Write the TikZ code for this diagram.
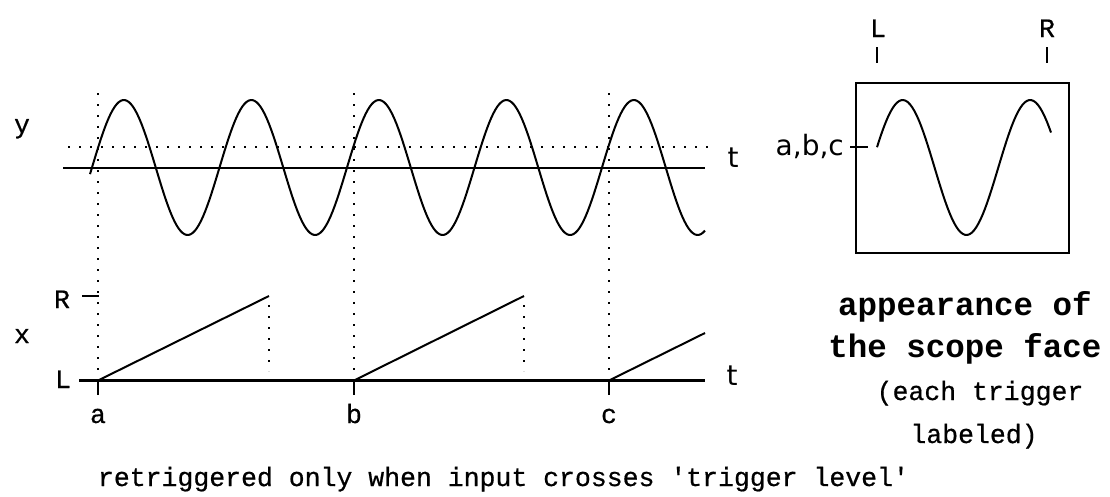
\documentclass[tikz,border=0pt]{standalone}
\usepackage{fontspec}
\setmainfont{Liberation Mono}
\newfontfamily\heavymono[FakeBold=0.6]{Liberation Mono}
\setsansfont{DejaVu Sans}
\usepackage{tikz}
\usetikzlibrary{positioning}

\begin{document}
\begin{tikzpicture}[
  x=1pt, y=-1pt,
  axis/.style={line width=2.4pt},
  trace/.style={line width=2pt, line join=round},
  dots/.style={line width=2pt, dash pattern=on 2pt off 9pt},
  tickmark/.style={line width=2pt},
  lbl/.style={inner sep=0pt, anchor=base, font=\heavymono\fontsize{26.5}{30}\selectfont},
  slbl/.style={inner sep=0pt, anchor=base, font=\sffamily\fontsize{28}{32}\selectfont},
  title/.style={inner sep=0pt, anchor=base, font=\rmfamily\bfseries\fontsize{32.5}{40}\selectfont},
]
  \useasboundingbox (0,0) rectangle (1110,496);

  % input signal and trigger level
  \coordinate (ystart) at (63,168);
  \coordinate (yend) at (705,168);
  \coordinate (lvlstart) at (68,146.7);
  \coordinate (lvlend) at (710,146.7);
  \draw[axis] (ystart) -- (yend);
  \draw[dots] (lvlstart) -- (lvlend);
  \draw[trace] plot[domain=90:705, samples=300] (\x,{167.5-67.5*sin((\x-92)/127.5*360)});
  \node[lbl] (ylab) at (22,133) {y};
  \node[slbl] (ty) at (733,167) {t};

  % sweep
  \coordinate (xstart) at (79,380.5);
  \coordinate (xend) at (705,380.5);
  \draw[axis] (xstart) -- (xend);
  \node[lbl] (xlab) at (22,343) {x};
  \node[lbl] (rlab) at (62,308) {R};
  \node[lbl] (llab) at (63,388) {L};
  \node[slbl] (tx) at (732,385) {t};
  \coordinate (rtickl) at (82,296);
  \coordinate (rtickr) at (99,296);
  \draw[tickmark] (rtickl) -- (rtickr);

  \foreach \n/\xx/\xe/\ye in {a/98/269/296, b/354/524/296, c/609/705/333} {
    \coordinate (top\n) at (\xx,93);
    \coordinate (foot\n) at (\xx,371);
    \coordinate (axis\n) at (\xx,380.5);
    \coordinate (tick\n) at (\xx,395);
    \coordinate (ramp\n) at (\xe,\ye);
    \draw[dots] (top\n) -- (foot\n);
    \draw[tickmark] (axis\n) -- (tick\n);
    \draw[trace] (axis\n) -- (ramp\n);
    \node[lbl] (\n) at (\xx,423) {\n};
  }
  \coordinate (dropa) at (269,371);
  \coordinate (dropb) at (524,371);
  \draw[dots] ([yshift=-9pt]rampa) -- (dropa);
  \draw[dots] ([yshift=-9pt]rampb) -- (dropb);

  \node[lbl] (note) at (503.5,486) {retriggered only when input crosses \textquotesingle trigger level\textquotesingle};

  % scope face
  \node[draw, line width=2.4pt, minimum width=213pt, minimum height=170pt, inner sep=0pt] (face) at (962.5,168) {};
  \draw[trace] plot[domain=877:1051, samples=80] (\x,{167.5-67.5*sin((\x-870.8)/127.5*360)});
  \node[lbl] (fl) at (878,37) {L};
  \node[lbl] (fr) at (1047,37) {R};
  \coordinate (fltop) at (877,47);
  \coordinate (flbot) at (877,63);
  \coordinate (frtop) at (1047,47);
  \coordinate (frbot) at (1047,63);
  \draw[tickmark] (fltop) -- (flbot);
  \draw[tickmark] (frtop) -- (frbot);
  \node[slbl, anchor=base east] (abc) at (844,155) {a,b,c};
  \coordinate (abcl) at (850,147);
  \coordinate (abcr) at (868,147);
  \draw[tickmark] (abcl) -- (abcr);

  \node[title] (cap1) at (965,315) {appearance of};
  \node[title] (cap2) at (965,357) {the scope face};
  \node[lbl] (cap3) at (980,400) {(each trigger};
  \node[lbl] (cap4) at (974,443) {labeled)};
\end{tikzpicture}
\end{document}
